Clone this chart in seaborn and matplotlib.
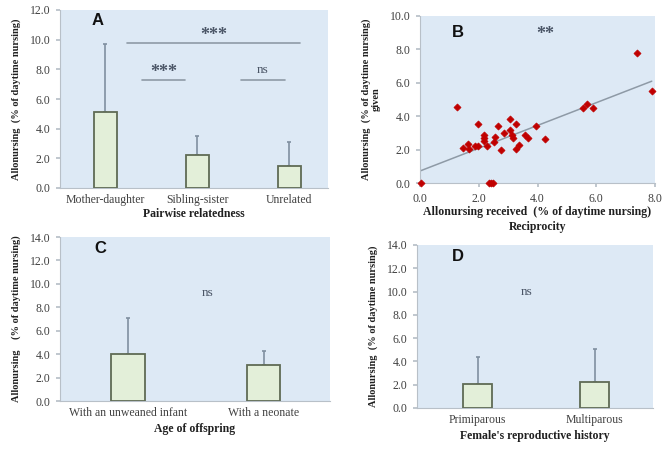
import matplotlib
matplotlib.use("Agg")
import matplotlib.pyplot as plt
import seaborn as sns
import numpy as np
import pandas as pd

sns.set_theme(style="white")
plt.rcParams['font.family'] = ['Liberation Serif', 'DejaVu Serif']

# ---- data ----
rel_cats = ["Mother-daughter", "Sibling-sister", "Unrelated"]
rel_mean = [5.1, 2.2, 1.5]
rel_top = [9.7, 3.5, 3.1]

recv = [0.02, 1.25, 1.45, 1.65, 1.68, 1.87, 1.99, 1.96, 2.18, 2.18, 2.18, 2.27,
        2.36, 2.42, 2.50, 2.53, 2.55, 2.67, 2.76, 2.86, 3.06, 3.06, 3.12, 3.16,
        3.26, 3.26, 3.38, 3.58, 3.69, 3.95, 4.26, 5.56, 5.68, 5.90, 7.38, 7.89]
given = [0.0, 4.53, 2.12, 2.32, 2.02, 2.20, 2.20, 3.51, 2.89, 2.69, 2.51, 2.22,
         0.0, 0.0, 0.0, 2.45, 2.75, 3.41, 2.00, 3.01, 3.81, 3.15, 2.89, 2.69,
         3.51, 2.02, 2.30, 2.89, 2.71, 3.41, 2.61, 4.51, 4.75, 4.51, 7.80, 5.51]

age_cats = ["With an unweaned infant", "With a neonate"]
age_mean = [4.05, 3.05]
age_top = [7.1, 4.25]

rep_cats = ["Primiparous", "Multiparous"]
rep_mean = [2.1, 2.25]
rep_top = [4.4, 5.1]

# ---- style ----
BG = "#dde9f5"
BAR = "#e3efd9"
BAR_EDGE = "#5f6b55"
ERR = "#8090a0"
DOT = "#c00000"
LINE = "#8e9aa6"
SPINE = "#b8c0c8"
TXT = "#404040"
SIG = "#4a5566"

fig = plt.figure(figsize=(6.63, 4.5), dpi=100)
W, H = 663, 450

def add_ax(l, r, t, b):
    return fig.add_axes([l / W, 1 - b / H, (r - l) / W, (b - t) / H])

axA = add_ax(60, 328, 10, 188)
axB = add_ax(420, 655, 16, 183)
axC = add_ax(60, 330, 237, 401)
axD = add_ax(417, 653, 245, 408)

def style(ax):
    ax.set_facecolor(BG)
    for s in ["top", "right"]:
        ax.spines[s].set_visible(False)
    for s in ["left", "bottom"]:
        ax.spines[s].set_color(SPINE)
        ax.spines[s].set_linewidth(0.8)
    ax.tick_params(axis="both", labelsize=8.5, colors=TXT, length=0, pad=4)
    ax.tick_params(axis="y", length=3, color=SPINE, direction="out", left=True)
    ax.yaxis.set_major_formatter(matplotlib.ticker.FormatStrFormatter("%.1f"))
    ax.grid(False)

def bars(ax, cats, mean, top, width):
    df = pd.DataFrame({"cat": cats, "val": mean})
    sns.barplot(data=df, x="cat", y="val", ax=ax, color=BAR, width=width,
                edgecolor=BAR_EDGE, linewidth=1.3, saturation=1, zorder=3)
    x = np.arange(len(cats))
    m = np.array(mean)
    ax.errorbar(x, m, yerr=[np.zeros_like(m), np.array(top) - m], fmt="none",
                ecolor=ERR, elinewidth=1.2, capsize=1.5, capthick=1.2, zorder=2)
    ax.set_xlabel("")
    ax.set_ylabel("")

ylab = "Allonursing  (% of daytime nursing)"
lab_kw = dict(fontsize=8.5, fontweight="bold", color="#202020")
ylab_kw = dict(fontsize=7.5, fontweight="bold", color="#202020")
letter_kw = dict(fontsize=12, fontweight="bold", family=["Liberation Sans", "DejaVu Sans"], color="#111111")
star_kw = dict(ha="center", va="baseline", fontsize=13, fontweight="bold", color=SIG)
ns_kw = dict(ha="center", va="center", fontsize=9.5, color=SIG)

# ---- A ----
bars(axA, rel_cats, rel_mean, rel_top, 0.25)
style(axA)
axA.set_xlim(-0.49, 2.42)
axA.set_ylim(0, 12)
axA.set_yticks(np.arange(0, 12.1, 2))
axA.set_xlabel("Pairwise relatedness", labelpad=2, **lab_kw)
axA.set_ylabel(ylab, labelpad=6, **ylab_kw)
axA.text(-0.08, 11.3, "A", ha="center", va="center", **letter_kw)
for (x0, x1, yl) in [(0.24, 2.12, 9.8), (0.40, 0.87, 7.3), (1.47, 1.95, 7.3)]:
    axA.plot([x0, x1], [yl, yl], color=LINE, lw=1.2, zorder=4)
axA.text(1.18, 9.95, "***", **star_kw)
axA.text(0.635, 7.45, "***", **star_kw)
axA.text(1.71, 7.95, "ns", **ns_kw)

# ---- B ----
dfB = pd.DataFrame({"recv": recv, "given": given})
sns.regplot(data=dfB, x="recv", y="given", ax=axB, scatter=False, ci=None,
            line_kws=dict(color=LINE, lw=1.1, zorder=2))
sns.scatterplot(data=dfB, x="recv", y="given", ax=axB, marker="D", s=13,
                color=DOT, edgecolor=DOT, linewidth=0.5, zorder=3, clip_on=False)
style(axB)
axB.xaxis.set_major_formatter(matplotlib.ticker.FormatStrFormatter("%.1f"))
axB.tick_params(axis="x", length=3, color=SPINE, direction="out", bottom=True)
axB.set_xlim(0, 8)
axB.set_ylim(0, 10)
axB.set_xticks(np.arange(0, 8.1, 2))
axB.set_yticks(np.arange(0, 10.1, 2))
axB.set_xlabel("Allonursing received  (% of daytime nursing)\nReciprocity",
               labelpad=1, linespacing=1.35, **lab_kw)
axB.set_ylabel(ylab + "\ngiven", labelpad=6, linespacing=1.1, **ylab_kw)
axB.text(1.3, 9.0, "B", ha="center", va="center", **letter_kw)
axB.text(4.25, 8.6, "**", **star_kw)

# ---- C ----
bars(axC, age_cats, age_mean, age_top, 0.25)
style(axC)
axC.set_xlim(-0.5, 1.49)
axC.set_ylim(0, 14)
axC.set_yticks(np.arange(0, 14.1, 2))
axC.set_xlabel("Age of offspring", labelpad=3, **lab_kw)
axC.set_ylabel("Allonursing    (% of daytime nursing)", labelpad=6, **ylab_kw)
axC.text(-0.2, 13.0, "C", ha="center", va="center", **letter_kw)
axC.text(0.59, 9.2, "ns", **ns_kw)

# ---- D ----
bars(axD, rep_cats, rep_mean, rep_top, 0.25)
style(axD)
axD.set_xlim(-0.52, 1.5)
axD.set_ylim(0, 14)
axD.set_yticks(np.arange(0, 14.1, 2))
axD.set_xlabel("Female's reproductive history", labelpad=3, **lab_kw)
axD.set_ylabel(ylab, labelpad=6, **ylab_kw)
axD.text(-0.17, 13.0, "D", ha="center", va="center", **letter_kw)
axD.text(0.42, 10.0, "ns", **ns_kw)

fig.savefig("out.png", dpi=100, facecolor="white")
